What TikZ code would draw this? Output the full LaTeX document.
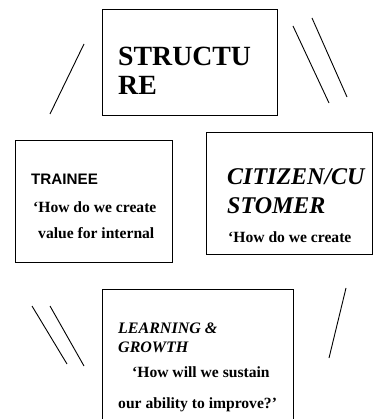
\documentclass[tikz,border=0pt]{standalone}
\usepackage{fontspec}
\setmainfont{Liberation Serif}
\newfontfamily\arialfont{Liberation Sans}
\usetikzlibrary{positioning}

\begin{document}
\begin{tikzpicture}[x=1pt, y=-1pt,
    panel/.style={draw, line width=0.9pt, rectangle, anchor=north west, inner sep=0pt},
    heading/.style={anchor=base west, inner sep=0pt, font=\bfseries\fontsize{27.8}{30}\selectfont},
    subhead/.style={anchor=base west, inner sep=0pt, font=\bfseries\itshape\fontsize{16}{18}\selectfont},
    question/.style={anchor=base west, inner sep=0pt, font=\bfseries\fontsize{15.6}{18}\selectfont},
    tick/.style={line width=0.9pt}]
    \clip (0,0) rectangle (373,419);
    % --- boxes (the lower one runs off the page) ---
    \node[panel, minimum width=175pt, minimum height=106pt] (structure) at (102,9) {};
    \node[panel, minimum width=157pt, minimum height=122pt] (trainee) at (15,140) {};
    \node[panel, minimum width=166pt, minimum height=122pt] (citizen) at (206,132) {};
    \node[panel, minimum width=191pt, minimum height=150pt] (learning) at (102,289) {};
    % --- structure ---
    \node[heading] (structure-a) at (118,66) {STRUCTU};
    \node[heading] (structure-b) at (118,95) {RE};
    % --- trainee ---
    \node[anchor=base west, inner sep=0pt, font=\arialfont\bfseries\fontsize{15.2}{17}\selectfont]
      (trainee-t) at (31,185) {TRAINEE};
    \node[question] (trainee-q1) at (33,212) {‘How do we create};
    \node[question] (trainee-q2) at (38,238) {value for internal};
    % --- citizen / customer ---
    \node[heading, font=\bfseries\itshape\fontsize{24}{28}\selectfont] (citizen-a) at (227,185) {CITIZEN/CU};
    \node[heading, font=\bfseries\itshape\fontsize{24}{28}\selectfont] (citizen-b) at (227,213) {STOMER};
    \node[question] (citizen-q1) at (228,242) {‘How do we create};
    % --- learning & growth ---
    \node[subhead] (learning-a) at (118,333) {LEARNING \&};
    \node[subhead] (learning-b) at (118,352) {GROWTH};
    \node[question] (learning-q1) at (132,377) {‘How will we sustain};
    \node[question] (learning-q2) at (118,408) {our ability to improve?’};
    % --- loose strokes between the boxes ---
    \draw[tick] (84,44) -- (50,114);
    \draw[tick] (293,26) -- (329,103);
    \draw[tick] (312,18) -- (347,97);
    \draw[tick] (32,306) -- (67,364);
    \draw[tick] (50,306) -- (84,366);
    \draw[tick] (346,288) -- (329,358);
\end{tikzpicture}
\end{document}
